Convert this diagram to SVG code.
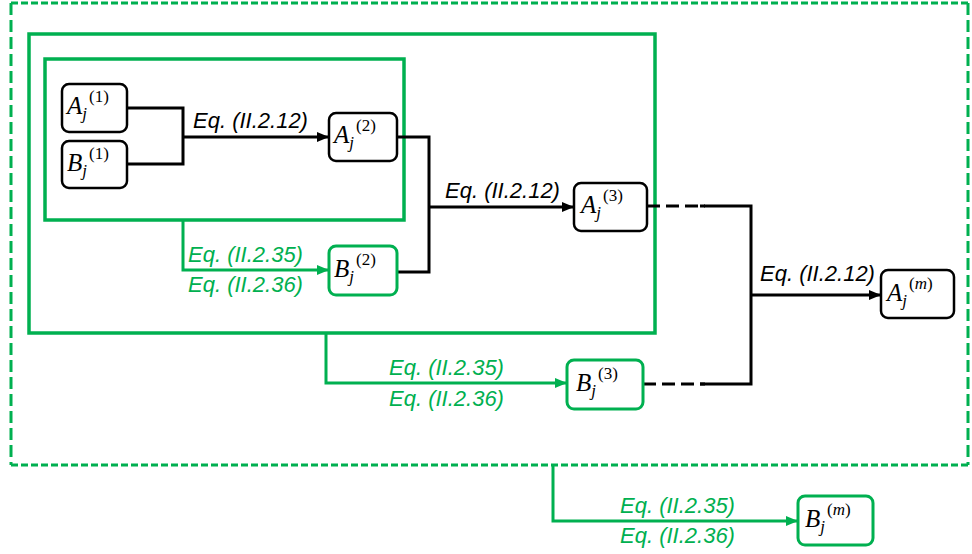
<svg xmlns="http://www.w3.org/2000/svg" width="972" height="554" viewBox="0 0 972 554">
<defs>
<style>
.node{fill:#fff;stroke:#000;stroke-width:2.5}
.gnode{fill:#fff;stroke:#00B050;stroke-width:3}
.frame{fill:none;stroke:#00B050;stroke-width:3.5}
.dash{fill:none;stroke:#00B050;stroke-width:3}
.bl{fill:none;stroke:#000;stroke-width:3}
.bld{fill:none;stroke:#000;stroke-width:3;stroke-dasharray:13 6}
.gl{fill:none;stroke:#00B050;stroke-width:3}
.lab{font-family:"Liberation Sans",Arial,sans-serif;font-style:italic;font-size:22px;fill:#000}
.glab{font-family:"Liberation Sans",Arial,sans-serif;font-style:italic;font-size:22px;fill:#00B050}
.m{font-family:"Liberation Serif","Times New Roman",serif;font-size:25px;fill:#000}
.v{font-style:italic}
.s{font-size:17px}
</style>
<marker id="ab" viewBox="0 0 12 10" refX="12" refY="5" markerWidth="12" markerHeight="10" markerUnits="userSpaceOnUse" orient="auto"><path d="M0,0L12,5L0,10z" fill="#000"/></marker>
<marker id="ag" viewBox="0 0 12 10" refX="12" refY="5" markerWidth="12" markerHeight="10" markerUnits="userSpaceOnUse" orient="auto"><path d="M0,0L12,5L0,10z" fill="#00B050"/></marker>
</defs>

<g id="frames">
<path class="dash" d="M11,3H968M11,465H968" stroke-dasharray="7 3"/>
<path class="dash" d="M11,3V465M968,3V465" stroke-dasharray="12 5"/>
<rect class="frame" x="29" y="34" width="626" height="299"/>
<rect class="frame" x="45" y="59" width="359" height="161"/>
</g>

<g id="connectors">
<path class="bl" d="M127,108H183V164H127"/>
<path class="bl" d="M183,137H329" marker-end="url(#ab)"/>
<path class="bl" d="M397,137H429V272H397"/>
<path class="bl" d="M429,207H574" marker-end="url(#ab)"/>
<path class="bld" d="M647,206H705"/>
<path class="bl" d="M700,206H751V384H700"/>
<path class="bld" d="M643,384H705"/>
<path class="bl" d="M751,295H881" marker-end="url(#ab)"/>
<path class="gl" d="M183,220V270H329" marker-end="url(#ag)"/>
<path class="gl" d="M326,333V383H567" marker-end="url(#ag)"/>
<path class="gl" d="M553,465V521H798" marker-end="url(#ag)"/>
<text class="lab" x="193" y="128">Eq. (II.2.12)</text>
<text class="lab" x="445" y="198">Eq. (II.2.12)</text>
<text class="lab" x="760" y="281">Eq. (II.2.12)</text>
<text class="glab" x="188" y="262">Eq. (II.2.35)</text>
<text class="glab" x="188" y="292">Eq. (II.2.36)</text>
<text class="glab" x="389" y="375">Eq. (II.2.35)</text>
<text class="glab" x="389" y="406">Eq. (II.2.36)</text>
<text class="glab" x="620" y="513">Eq. (II.2.35)</text>
<text class="glab" x="620" y="543">Eq. (II.2.36)</text>
</g>

<g id="A1">
<rect class="node" x="62" y="84" width="65" height="48" rx="7"/>
<text class="m" x="67" y="114"><tspan class="v">A</tspan><tspan class="v s" dy="5">j</tspan><tspan class="s" dx="2" dy="-17">(1)</tspan></text>
</g>
<g id="B1">
<rect class="node" x="62" y="141" width="65" height="47" rx="7"/>
<text class="m" x="67" y="171"><tspan class="v">B</tspan><tspan class="v s" dy="5">j</tspan><tspan class="s" dx="2" dy="-17">(1)</tspan></text>
</g>
<g id="A2">
<rect class="node" x="329" y="113" width="68" height="48" rx="7"/>
<text class="m" x="334" y="143"><tspan class="v">A</tspan><tspan class="v s" dy="5">j</tspan><tspan class="s" dx="2" dy="-17">(2)</tspan></text>
</g>
<g id="B2">
<rect class="gnode" x="329" y="246" width="68" height="49" rx="7"/>
<text class="m" x="334" y="277"><tspan class="v">B</tspan><tspan class="v s" dy="5">j</tspan><tspan class="s" dx="2" dy="-17">(2)</tspan></text>
</g>
<g id="A3">
<rect class="node" x="574" y="183" width="73" height="48" rx="7"/>
<text class="m" x="581" y="213"><tspan class="v">A</tspan><tspan class="v s" dy="5">j</tspan><tspan class="s" dx="2" dy="-17">(3)</tspan></text>
</g>
<g id="B3">
<rect class="gnode" x="567" y="360" width="76" height="49" rx="7"/>
<text class="m" x="576" y="391"><tspan class="v">B</tspan><tspan class="v s" dy="5">j</tspan><tspan class="s" dx="2" dy="-17">(3)</tspan></text>
</g>
<g id="Am">
<rect class="node" x="881" y="270" width="73" height="48" rx="7"/>
<text class="m" x="887" y="301"><tspan class="v">A</tspan><tspan class="v s" dy="5">j</tspan><tspan class="s" dx="2" dy="-17">(<tspan class="v">m</tspan>)</tspan></text>
</g>
<g id="Bm">
<rect class="gnode" x="798" y="496" width="75" height="49" rx="7"/>
<text class="m" x="805" y="527"><tspan class="v">B</tspan><tspan class="v s" dy="5">j</tspan><tspan class="s" dx="2" dy="-17">(<tspan class="v">m</tspan>)</tspan></text>
</g>
</svg>
